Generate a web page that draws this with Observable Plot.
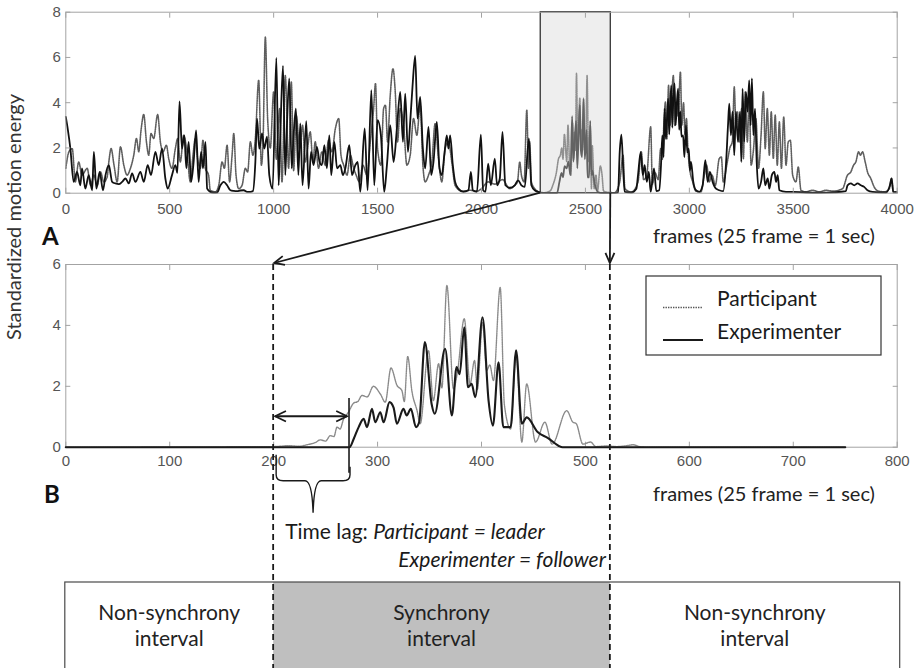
<!DOCTYPE html>
<html>
<head>
<meta charset="utf-8">
<script src="https://cdn.jsdelivr.net/npm/d3@7"></script>
<script src="https://cdn.jsdelivr.net/npm/@observablehq/plot@0.6"></script>
<style>
  html, body { margin: 0; padding: 0; background: #ffffff; }
  #wrap { position: relative; width: 918px; height: 668px; overflow: hidden; background: #ffffff; }
</style>
</head>
<body>
<div id="wrap"></div>
<script>
// ---------------- DATA ----------------
const yLabel = "Standardized motion energy";
const xLabel = "frames (25 frame = 1 sec)";
const panelLetters = ["A", "B"];
const seriesNames = ["Participant", "Experimenter"];
const intervalLabels = [["Non-synchrony", "interval"], ["Synchrony", "interval"], ["Non-synchrony", "interval"]];
const lagText = ["Time lag: ", "Participant = leader", "Experimenter = follower"];

const aXTicks = [0, 500, 1000, 1500, 2000, 2500, 3000, 3500, 4000];
const aYTicks = [0, 2, 4, 6, 8];
const bXTicks = [0, 100, 200, 300, 400, 500, 600, 700, 800];
const bYTicks = [0, 2, 4, 6];

const aWindow = [2285, 2622];     // zoomed frames in panel A
const bSync = [200, 524];         // synchrony interval in panel B
const bLag = [200, 273];          // time lag in panel B
const bLagLevel = 1.0;            // height of the lag arrow
const bLagTop = 1.6;              // top of the follower onset line

// Panel A: [frame, value]
const aExperimenter = [[0,3.37],[10,2.8],[22,1.97],[38,0.5],[54,0.94],[70,0.35],[78,1.1],[94,0.2],[110,0.8],[127,0.13],[135,1.83],[147,0.2],[163,0.94],[179,0.13],[191,0.8],[207,1.24],[223,0.5],[239,0.43],[255,0.4],[271,0.5],[287,0.65],[303,0.43],[319,0.87],[335,0.5],[359,0.94],[375,0.5],[394,1.24],[410,0.8],[431,1.83],[447,1.24],[463,1.97],[479,0.65],[490,0.2],[511,0.8],[527,1.24],[537,0.9],[547,4.06],[559,1.97],[570,2.56],[580,1.1],[591,2.27],[603,0.5],[615,1.38],[627,2.78],[639,0.5],[651,1.83],[660,1.1],[672,2.27],[680,0.2],[695,0.06],[712,0.02],[728,0.03],[744,0.35],[760,0.5],[776,0.35],[792,0.13],[808,0.1],[824,0.09],[840,0.12],[856,0.13],[872,0.06],[888,0.06],[900,0.09],[912,1.38],[920,3.3],[931,1.97],[944,2.64],[955,1.97],[968,2.5],[979,0.8],[995,0.2],[1013,5.98],[1024,0.35],[1032,2.56],[1045,5.63],[1056,0.8],[1064,3.0],[1075,5.07],[1087,1.1],[1096,2.56],[1107,3.74],[1119,0.8],[1128,3.08],[1139,0.35],[1157,3.18],[1168,0.2],[1180,1.83],[1192,1.24],[1208,2.05],[1221,1.38],[1232,1.24],[1244,2.12],[1256,1.1],[1268,2.56],[1277,0.8],[1292,2.27],[1305,1.1],[1321,1.24],[1333,0.8],[1345,1.1],[1364,2.12],[1377,0.8],[1393,1.24],[1404,1.38],[1417,0.06],[1438,2.86],[1452,0.13],[1470,4.55],[1484,0.35],[1500,3.23],[1516,2.56],[1532,0.06],[1545,1.24],[1561,3.0],[1577,1.38],[1593,2.86],[1609,4.48],[1622,2.27],[1633,4.4],[1646,1.83],[1657,3.15],[1668,4.7],[1681,6.07],[1692,3.3],[1705,4.26],[1718,1.97],[1729,1.1],[1745,2.93],[1758,0.8],[1769,1.38],[1785,3.15],[1798,1.1],[1809,0.8],[1821,1.68],[1833,2.56],[1841,1.97],[1849,2.56],[1862,1.24],[1873,0.5],[1889,0.2],[1913,0.06],[1937,0.13],[1949,0.94],[1958,0.13],[1978,0.06],[1997,2.59],[2008,0.13],[2019,0.06],[2032,1.31],[2045,0.35],[2064,1.53],[2075,0.35],[2088,0.65],[2101,2.71],[2115,0.35],[2136,0.24],[2160,0.35],[2176,0.57],[2192,0.35],[2208,0.28],[2228,2.42],[2240,0.35],[2256,0.13],[2280,0.04],[2300,0.01],[2363,0.0],[2375,0.5],[2385,0.9],[2392,0.7],[2400,1.2],[2410,1.1],[2418,1.4],[2428,0.8],[2436,3.4],[2442,1.4],[2455,3.2],[2461,1.1],[2467,2.6],[2473,3.9],[2478,1.9],[2484,1.6],[2491,4.2],[2497,1.5],[2506,2.8],[2510,0.7],[2518,0.7],[2523,3.2],[2529,0.8],[2533,1.0],[2545,0.4],[2560,0.05],[2580,0.0],[2640,0.0],[2657,0.03],[2665,1.83],[2673,2.59],[2683,0.8],[2689,0.06],[2721,0.03],[2745,0.2],[2753,0.8],[2766,1.83],[2776,0.8],[2785,1.24],[2795,0.5],[2805,0.94],[2814,0.06],[2830,1.1],[2841,0.09],[2855,0.13],[2865,1.5],[2870,2.56],[2876,1.6],[2881,3.74],[2887,2.4],[2892,3.2],[2898,4.18],[2903,2.6],[2908,3.9],[2913,4.77],[2918,2.9],[2923,4.2],[2929,4.85],[2934,3.0],[2940,4.0],[2946,4.62],[2951,2.8],[2957,3.6],[2962,2.5],[2970,2.56],[2976,1.6],[2984,3.0],[2990,1.8],[2997,1.97],[3003,1.0],[3008,1.38],[3019,0.5],[3032,0.13],[3048,0.06],[3064,0.35],[3077,1.46],[3088,0.5],[3099,0.94],[3112,0.5],[3128,0.2],[3144,0.13],[3163,0.09],[3176,1.24],[3186,3.0],[3192,3.96],[3200,2.56],[3208,3.6],[3216,1.68],[3224,3.6],[3234,2.27],[3244,3.6],[3250,1.38],[3256,4.62],[3264,2.27],[3272,4.48],[3280,3.6],[3288,4.99],[3295,3.0],[3301,5.07],[3308,2.56],[3316,3.74],[3324,1.38],[3333,0.2],[3345,0.5],[3356,1.1],[3365,0.35],[3377,0.65],[3385,0.2],[3397,0.8],[3409,0.94],[3417,0.5],[3425,0.8],[3433,0.13],[3465,0.06],[3497,0.06],[3560,0.03],[3625,0.02],[3700,0.04],[3753,0.09],[3761,0.35],[3777,0.43],[3793,0.35],[3809,0.43],[3825,0.35],[3841,0.28],[3857,0.13],[3881,0.06],[3946,0.03],[3965,0.35],[3973,0.65],[3981,0.06],[4000,0.05]];

const aParticipant = [[0,1.1],[15,1.83],[31,1.97],[46,0.5],[62,1.38],[78,0.8],[103,1.1],[119,0.35],[135,0.8],[151,0.35],[167,0.94],[183,0.5],[199,0.72],[207,1.38],[218,1.97],[232,1.24],[247,0.5],[263,2.05],[279,1.24],[295,0.8],[311,1.1],[327,1.68],[340,2.42],[351,1.83],[362,2.78],[375,3.48],[388,2.27],[399,1.68],[410,2.64],[423,2.42],[442,3.48],[455,2.27],[468,1.83],[484,2.12],[495,1.53],[511,1.1],[527,1.97],[538,2.42],[551,1.38],[567,2.56],[583,1.83],[599,0.5],[612,1.68],[623,2.42],[634,1.53],[647,1.1],[660,2.34],[671,1.1],[687,0.8],[695,0.13],[720,0.06],[736,0.35],[752,1.38],[763,1.1],[776,2.12],[788,0.5],[800,1.68],[808,2.64],[819,0.8],[832,0.2],[848,0.35],[864,1.1],[875,0.94],[888,2.27],[900,1.68],[912,2.42],[928,4.99],[941,1.24],[949,2.27],[960,6.9],[971,3.3],[984,2.0],[1000,4.48],[1013,1.5],[1029,3.74],[1040,0.5],[1056,5.2],[1072,1.1],[1085,4.92],[1096,1.0],[1109,3.45],[1125,1.97],[1139,3.0],[1152,1.38],[1163,1.97],[1176,2.71],[1189,1.38],[1200,2.27],[1216,1.1],[1232,1.83],[1248,1.24],[1264,2.34],[1280,1.83],[1297,2.86],[1313,3.3],[1324,1.68],[1337,1.24],[1353,0.8],[1369,1.68],[1385,1.1],[1397,0.8],[1413,0.5],[1429,1.24],[1449,0.8],[1465,2.27],[1481,3.74],[1490,4.85],[1500,1.97],[1516,1.24],[1529,3.74],[1538,3.89],[1548,2.27],[1561,4.33],[1574,5.5],[1585,4.48],[1596,2.27],[1609,3.74],[1625,3.0],[1641,1.24],[1657,1.68],[1673,3.3],[1689,2.56],[1705,3.89],[1718,1.24],[1729,0.5],[1745,0.8],[1761,1.38],[1777,3.08],[1793,1.53],[1809,0.5],[1825,1.97],[1841,2.27],[1857,1.38],[1873,0.35],[1905,0.09],[1946,0.13],[1978,0.09],[2000,0.2],[2032,0.5],[2064,0.4],[2101,0.6],[2136,0.2],[2160,0.35],[2173,0.5],[2184,1.38],[2192,0.8],[2205,0.5],[2218,3.67],[2226,1.1],[2232,2.27],[2240,0.5],[2256,0.2],[2280,0.05],[2300,0.02],[2330,0.1],[2345,0.4],[2360,0.9],[2370,1.5],[2380,1.7],[2386,2.0],[2392,1.5],[2399,2.6],[2405,1.9],[2410,1.4],[2416,3.0],[2424,1.2],[2430,0.8],[2438,3.1],[2443,1.5],[2448,2.7],[2452,1.9],[2457,5.3],[2463,1.9],[2473,4.2],[2479,2.1],[2483,2.8],[2486,1.9],[2491,4.1],[2496,2.5],[2501,1.9],[2508,5.2],[2515,1.4],[2523,3.0],[2529,0.2],[2533,2.1],[2542,0.2],[2551,0.8],[2558,0.1],[2572,1.2],[2580,0.8],[2587,0.1],[2600,0.05],[2640,0.02],[2665,0.5],[2681,1.68],[2690,0.2],[2721,0.05],[2753,0.5],[2769,1.83],[2780,0.6],[2795,0.8],[2814,2.93],[2822,0.4],[2835,0.9],[2850,0.6],[2862,1.97],[2870,1.5],[2878,3.2],[2885,4.03],[2892,2.4],[2900,4.77],[2907,3.0],[2915,4.2],[2923,5.2],[2930,3.0],[2938,4.0],[2946,3.4],[2957,5.36],[2964,3.0],[2972,4.0],[2979,2.6],[2986,3.3],[2993,1.97],[3000,1.2],[3016,0.5],[3032,0.09],[3056,0.06],[3072,0.8],[3083,1.24],[3096,0.5],[3109,0.8],[3125,0.35],[3144,1.53],[3154,1.6],[3163,0.5],[3180,1.24],[3195,2.0],[3207,2.3],[3216,4.7],[3224,3.0],[3232,3.6],[3240,2.27],[3252,3.74],[3260,1.53],[3269,4.48],[3279,2.27],[3288,4.33],[3297,1.24],[3309,1.97],[3320,3.3],[3333,1.1],[3345,2.56],[3356,4.48],[3365,1.97],[3375,3.74],[3385,1.68],[3394,3.6],[3404,1.53],[3413,3.45],[3423,1.24],[3433,3.15],[3443,1.1],[3454,3.37],[3465,1.24],[3476,2.27],[3486,2.34],[3497,0.8],[3513,0.5],[3524,1.16],[3537,0.13],[3560,0.06],[3593,0.13],[3625,0.06],[3657,0.13],[3690,0.09],[3737,0.2],[3761,0.8],[3777,0.94],[3790,1.24],[3801,1.38],[3814,1.83],[3823,1.68],[3833,1.83],[3846,1.38],[3857,0.94],[3873,0.65],[3889,0.28],[3910,0.09],[3940,0.06],[3962,0.2],[3973,0.65],[3981,0.06],[4000,0.05]];

// Panel B: [frame, value]
const bParticipant = [[0,0],[200,0.02],[215,0.05],[225,0.03],[232,0.08],[240,0.15],[245,0.24],[250,0.2],[254.5,0.38],[258,0.35],[261,0.66],[264,0.6],[267,0.9],[272,1.15],[277,1.45],[281,1.5],[285,1.7],[290,1.65],[296,2.0],[302.6,1.75],[307.4,1.48],[312.9,2.6],[318.7,2.03],[323.5,1.85],[325.7,1.5],[329,2.98],[333,1.85],[338,1.2],[341,0.77],[349,3.17],[353.7,1.53],[358.7,2.74],[361.9,1.95],[366.7,5.31],[373,1.92],[377,2.5],[383.4,4.22],[389,2.08],[393.3,2.85],[396,1.9],[401,4.1],[405,2.52],[408,2.7],[411.5,2.19],[418,5.25],[422,1.4],[428,0.6],[433.3,3.0],[438.8,0.17],[443.5,2.08],[452,0.17],[461,0.82],[468,0.1],[482,1.2],[488,0.82],[491,0.78],[497.6,0.1],[505,0.17],[510,0.02],[520,0.04],[530,0.02],[540,0.05],[546,0.08],[552,0.02],[560,0],[750,0]];

const bExperimenter = [[0,0],[273,0],[277,0.27],[281.8,0.66],[286.6,0.93],[289.8,0.66],[294.6,1.26],[297.8,0.82],[302.6,1.15],[305.8,0.82],[311.5,1.48],[315.4,1.3],[318.6,0.77],[324.9,1.26],[328,1.04],[332,1.26],[337,0.66],[340,0.82],[345.5,3.45],[352,1.42],[355,1.1],[365,3.23],[371.5,1.04],[376,2.63],[379,2.4],[383.4,3.94],[387,1.97],[390.5,2.08],[394,1.64],[401,4.27],[406.8,1.53],[411,0.71],[416.4,2.79],[421,0.66],[428,0.66],[433.3,3.18],[438.8,0.77],[443.5,0.98],[454,0.5],[464,0.3],[474,0.05],[478,0],[750,0]];

// ---------------- STYLE ----------------
const tickFont = "'Liberation Sans', Arial, Helvetica, sans-serif";
const textFont = "Lato, 'Open Sans', sans-serif";
const axisGrey = "#a3a3a3";
const labelGrey = "#555555";
const plainNumber = d => String(d);

const W = 918;
const bTop = 250;

function frameAxes(xTicks, yTicks, padX, padY) {
  return [
    Plot.frame({stroke: axisGrey, strokeWidth: 1}),
    Plot.axisX(xTicks, {anchor: "bottom", tickSize: -5, tickPadding: padX, tickFormat: plainNumber, label: null, stroke: axisGrey, fill: labelGrey, fontSize: 15}),
    Plot.axisX(xTicks, {anchor: "top", tickSize: -5, tickFormat: () => "", label: null, stroke: axisGrey}),
    Plot.axisY(yTicks, {anchor: "left", tickSize: -5, tickPadding: padY, tickFormat: plainNumber, label: null, stroke: axisGrey, fill: labelGrey, fontSize: 15}),
    Plot.axisY(yTicks, {anchor: "right", tickSize: -5, tickFormat: () => "", label: null, stroke: axisGrey})
  ];
}

const plotStyle = {fontFamily: tickFont, fontSize: "15px", color: labelGrey, background: "transparent", overflow: "visible"};

const chartA = Plot.plot({
  width: W, height: 215,
  marginLeft: 65.3, marginRight: 21.3, marginTop: 11.7, marginBottom: 22.3,
  style: plotStyle,
  x: {domain: [aXTicks[0], aXTicks[aXTicks.length - 1]]},
  y: {domain: [aYTicks[0], aYTicks[aYTicks.length - 1]]},
  marks: [
    Plot.line(aParticipant, {x: d => d[0], y: d => d[1], stroke: "#5e5e5e", strokeWidth: 1.6, strokeDasharray: "1.2,1", curve: "monotone-x"}),
    Plot.line(aExperimenter, {x: d => d[0], y: d => d[1], stroke: "#111111", strokeWidth: 1.8, curve: "monotone-x"}),
    Plot.rect([aWindow], {x1: d => d[0], x2: d => d[1], y1: () => aYTicks[0], y2: () => aYTicks[aYTicks.length - 1], fill: "#d6d6d6", fillOpacity: 0.42, stroke: "#333333", strokeWidth: 1.3}),
    ...frameAxes(aXTicks, aYTicks, 15, 10)
  ]
});

const chartB = Plot.plot({
  width: W, height: 230,
  marginLeft: 65.3, marginRight: 21.3, marginTop: 14, marginBottom: 33.3,
  style: plotStyle,
  x: {domain: [bXTicks[0], bXTicks[bXTicks.length - 1]]},
  y: {domain: [bYTicks[0], bYTicks[bYTicks.length - 1]]},
  marks: [
    ...frameAxes(bXTicks, bYTicks, 13, 10),
    Plot.line(bParticipant, {x: d => d[0], y: d => d[1], stroke: "#8a8a8a", strokeWidth: 1.4, strokeDasharray: "1.4,0.9", curve: "monotone-x"}),
    Plot.line(bExperimenter, {x: d => d[0], y: d => d[1], stroke: "#1a1a1a", strokeWidth: 2.1, curve: "monotone-x"})
  ]
});

const wrap = document.getElementById("wrap");
chartA.style.position = "absolute"; chartA.style.left = "0px"; chartA.style.top = "0px";
chartB.style.position = "absolute"; chartB.style.left = "0px"; chartB.style.top = bTop + "px";
wrap.append(chartA, chartB);

function scaleFn(chart, name, offset = 0) {
  const s = chart.scale(name);
  if (s && typeof s.apply === "function") return v => s.apply(v) + offset;
  const t = Plot.scale({[name]: s});
  return v => t.apply(v) + offset;
}
const xA = scaleFn(chartA, "x"), yA = scaleFn(chartA, "y");
const xB = scaleFn(chartB, "x"), yB = scaleFn(chartB, "y", bTop);

// ---------------- ANNOTATION LAYER ----------------
const svg = d3.create("svg").attr("width", W).attr("height", 668)
  .style("position", "absolute").style("left", "0px").style("top", "0px").style("overflow", "visible");
wrap.append(svg.node());

function arrowHead(x1, y1, x2, y2, len = 11, ang = 0.42) {
  const a = Math.atan2(y2 - y1, x2 - x1);
  const p1 = [x2 - len * Math.cos(a - ang), y2 - len * Math.sin(a - ang)];
  const p2 = [x2 - len * Math.cos(a + ang), y2 - len * Math.sin(a + ang)];
  return `M${p1[0]},${p1[1]}L${x2},${y2}L${p2[0]},${p2[1]}`;
}
function arrow(x1, y1, x2, y2, w = 1.8) {
  svg.append("path").attr("d", `M${x1},${y1}L${x2},${y2}`).attr("stroke", "#1a1a1a").attr("stroke-width", w).attr("fill", "none");
  svg.append("path").attr("d", arrowHead(x1, y1, x2, y2)).attr("stroke", "#1a1a1a").attr("stroke-width", w).attr("fill", "none");
}

const bBaseY = yB(bYTicks[0]);
const bTopY = yB(bYTicks[bYTicks.length - 1]);
const xL = xB(bXTicks[0]), xR = xB(bXTicks[bXTicks.length - 1]);
const s0 = xB(bSync[0]), s1 = xB(bSync[1]);

// interval boxes at the bottom
const boxTop = 582, boxBottom = 700;
svg.append("rect").attr("x", s0).attr("y", boxTop).attr("width", s1 - s0).attr("height", boxBottom - boxTop).attr("fill", "#bfbfbf");
svg.append("rect").attr("x", xL - 0.5).attr("y", boxTop).attr("width", xR - xL + 3.5).attr("height", boxBottom - boxTop)
  .attr("fill", "none").attr("stroke", "#4a4a4a").attr("stroke-width", 1.2);
const boxCenters = [(xL + s0) / 2, (s0 + s1) / 2, (s1 + xR + 3) / 2];
intervalLabels.forEach((lines, i) => {
  lines.forEach((t, j) => {
    svg.append("text").attr("x", boxCenters[i]).attr("y", 620 + j * 26).attr("text-anchor", "middle")
      .attr("font-family", textFont).attr("font-size", 21).attr("fill", "#222").text(t);
  });
});

// dashed synchrony boundaries
[s0, s1].forEach(x => {
  svg.append("line").attr("x1", x).attr("x2", x).attr("y1", bTopY).attr("y2", 668)
    .attr("stroke", "#1a1a1a").attr("stroke-width", 1.8).attr("stroke-dasharray", "6,4");
});

// zoom arrows from panel A window to panel B
arrow(xA(aWindow[0]), yA(aYTicks[0]), s0 + 1, bTopY - 1);
arrow(xA(aWindow[1]), yA(aYTicks[0]), s1, bTopY - 1);

// time lag: onset line, double arrow, brace
const lagX0 = xB(bLag[0]), lagX1 = xB(bLag[1]);
const lagY = yB(bLagLevel);
svg.append("path").attr("d", `M${lagX1},${yB(bLagTop)}L${lagX1},${bBaseY + 26}`).attr("stroke", "#1a1a1a").attr("stroke-width", 1.6).attr("fill", "none");
svg.append("path").attr("d", `M${lagX0 + 2},${lagY}L${lagX1 - 2},${lagY}`).attr("stroke", "#1a1a1a").attr("stroke-width", 1.8);
svg.append("path").attr("d", arrowHead(lagX1, lagY, lagX0 + 2, lagY, 12, 0.45)).attr("stroke", "#1a1a1a").attr("stroke-width", 1.8).attr("fill", "none");
svg.append("path").attr("d", arrowHead(lagX0, lagY, lagX1 - 2, lagY, 12, 0.45)).attr("stroke", "#1a1a1a").attr("stroke-width", 1.8).attr("fill", "none");

const bl = lagX0 + 3, br = lagX1 + 1, bm = (bl + br) / 2;
const bt = bBaseY + 8, bh = bBaseY + 34, btip = bBaseY + 66;
svg.append("path")
  .attr("d", `M${bl},${bt}L${bl},${bh - 6}Q${bl},${bh} ${bl + 7},${bh}L${bm - 8},${bh}Q${bm - 1},${bh} ${bm},${btip}Q${bm + 1},${bh} ${bm + 8},${bh}L${br - 7},${bh}Q${br},${bh} ${br},${bh - 6}L${br},${bBaseY + 20}`)
  .attr("stroke", "#1a1a1a").attr("stroke-width", 1.4).attr("fill", "none");

const t1 = svg.append("text").attr("x", lagX0 + 12).attr("y", 539).attr("font-family", textFont).attr("font-size", 21).attr("fill", "#1a1a1a");
t1.append("tspan").text(lagText[0]);
t1.append("tspan").attr("font-style", "italic").text(lagText[1]);
svg.append("text").attr("x", s1 - 4).attr("y", 567).attr("text-anchor", "end").attr("font-family", textFont)
  .attr("font-size", 21).attr("font-style", "italic").attr("fill", "#1a1a1a").text(lagText[2]);

// legend inside panel B
const lg = {x: 646, y: 276, w: 235, h: 79};
svg.append("rect").attr("x", lg.x).attr("y", lg.y).attr("width", lg.w).attr("height", lg.h)
  .attr("fill", "#ffffff").attr("stroke", "#333").attr("stroke-width", 1.2);
svg.append("line").attr("x1", lg.x + 17).attr("x2", lg.x + 57).attr("y1", 307.5).attr("y2", 307.5)
  .attr("stroke", "#555").attr("stroke-width", 1.4).attr("stroke-dasharray", "1.4,1.1");
svg.append("line").attr("x1", lg.x + 17).attr("x2", lg.x + 57).attr("y1", 340).attr("y2", 340)
  .attr("stroke", "#1a1a1a").attr("stroke-width", 2);
svg.append("text").attr("x", lg.x + 71).attr("y", 306).attr("font-family", textFont).attr("font-size", 21).attr("fill", "#1a1a1a").text(seriesNames[0]);
svg.append("text").attr("x", lg.x + 71).attr("y", 339).attr("font-family", textFont).attr("font-size", 21).attr("fill", "#1a1a1a").text(seriesNames[1]);

// panel letters and x labels
svg.append("text").attr("x", 42).attr("y", 245).attr("font-family", textFont).attr("font-weight", "bold").attr("font-size", 24).attr("fill", "#111").text(panelLetters[0]);
svg.append("text").attr("x", 44).attr("y", 503).attr("font-family", textFont).attr("font-weight", "bold").attr("font-size", 24).attr("fill", "#111").text(panelLetters[1]);
svg.append("text").attr("x", 653).attr("y", 243).attr("font-family", textFont).attr("font-size", 20).attr("fill", "#222").text(xLabel);
svg.append("text").attr("x", 653).attr("y", 501).attr("font-family", textFont).attr("font-size", 20).attr("fill", "#222").text(xLabel);

// y label
svg.append("text").attr("transform", "translate(21,217) rotate(-90)").attr("text-anchor", "middle")
  .attr("font-family", textFont).attr("font-size", 20).attr("fill", "#333").text(yLabel);
</script>
</body>
</html>
